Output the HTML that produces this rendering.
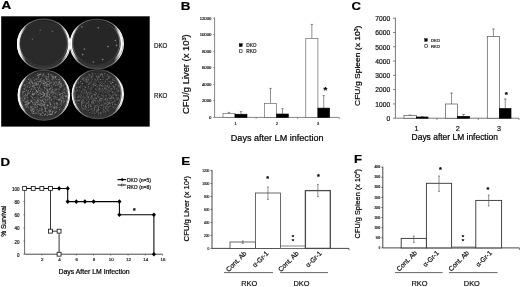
<!DOCTYPE html>
<html><head><meta charset="utf-8"><title>Figure</title>
<style>html,body{margin:0;padding:0;background:#fff;overflow:hidden}svg{display:block;font-family:"Liberation Sans",sans-serif;filter:blur(0.3px);}</style>
</head><body>
<svg width="520" height="287" viewBox="0 0 520 287">
<rect width="520" height="287" fill="#fff"/>
<text x="1.4" y="9" font-size="11.6" text-anchor="start" font-weight="bold" fill="#000" stroke="#000" stroke-width="0.2" textLength="9.72" lengthAdjust="spacingAndGlyphs">A</text>
<rect x="1.2" y="16.3" width="148.5" height="110.3" fill="#000"/>
<defs><linearGradient id="rim" x1="0" x2="1" y1="0" y2="0"><stop offset="0" stop-color="#fff"/><stop offset="0.06" stop-color="#eee"/><stop offset="0.2" stop-color="#7a7a7a"/><stop offset="0.4" stop-color="#505050"/><stop offset="0.6" stop-color="#505050"/><stop offset="0.8" stop-color="#7a7a7a"/><stop offset="0.94" stop-color="#eee"/><stop offset="1" stop-color="#fff"/></linearGradient><linearGradient id="rim2" x1="0" x2="1" y1="0" y2="0"><stop offset="0" stop-color="#999"/><stop offset="0.08" stop-color="#555"/><stop offset="0.3" stop-color="#303030"/><stop offset="0.7" stop-color="#303030"/><stop offset="0.92" stop-color="#555"/><stop offset="1" stop-color="#999"/></linearGradient><linearGradient id="wall" x1="0" x2="0" y1="0" y2="1"><stop offset="0" stop-color="#1a1a1a"/><stop offset="0.7" stop-color="#222"/><stop offset="1" stop-color="#3a3a3a"/></linearGradient><linearGradient id="cL" x1="0" x2="1" y1="0" y2="0"><stop offset="0" stop-color="#fff" stop-opacity="1"/><stop offset="0.05" stop-color="#fff" stop-opacity="0.85"/><stop offset="0.16" stop-color="#fff" stop-opacity="0"/><stop offset="1" stop-color="#fff" stop-opacity="0"/></linearGradient><linearGradient id="cR" x1="0" x2="1" y1="0" y2="0"><stop offset="0" stop-color="#fff" stop-opacity="0"/><stop offset="0.84" stop-color="#fff" stop-opacity="0"/><stop offset="0.95" stop-color="#fff" stop-opacity="0.85"/><stop offset="1" stop-color="#fff" stop-opacity="1"/></linearGradient><filter id="bl" x="-5%" y="-5%" width="110%" height="110%"><feGaussianBlur stdDeviation="0.5"/></filter><filter id="bl2" x="-5%" y="-5%" width="110%" height="110%"><feGaussianBlur stdDeviation="0.3"/></filter></defs>
<g filter="url(#bl)">
<ellipse cx="43.7" cy="44.2" rx="26.2" ry="25.1" fill="url(#wall)" stroke="url(#rim)" stroke-width="1.1"/>
<ellipse cx="43.5" cy="43.3" rx="24.0" ry="22.3" fill="#2a2a2a" stroke="url(#rim2)" stroke-width="0.7"/>
<ellipse cx="43.6" cy="43.8" rx="25.4" ry="23.9" fill="none" stroke="url(#cL)" stroke-width="2.4"/>
<ellipse cx="43.6" cy="43.8" rx="25.4" ry="23.9" fill="none" stroke="url(#cR)" stroke-width="1.5"/>
<circle cx="40.2" cy="30.2" r="0.8" fill="#666"/>
<circle cx="32.4" cy="39.3" r="0.8" fill="#666"/>
<circle cx="52.4" cy="31.5" r="0.8" fill="#666"/>
<ellipse cx="96.8" cy="44.0" rx="26.6" ry="24.8" fill="url(#wall)" stroke="url(#rim)" stroke-width="1.1"/>
<ellipse cx="96.2" cy="43.0" rx="23.6" ry="22.0" fill="#282828" stroke="url(#rim2)" stroke-width="0.7"/>
<ellipse cx="96.5" cy="43.5" rx="25.3" ry="23.6" fill="none" stroke="url(#cL)" stroke-width="1.5"/>
<ellipse cx="96.5" cy="43.5" rx="25.3" ry="23.6" fill="none" stroke="url(#cR)" stroke-width="2.3"/>
<circle cx="82" cy="27" r="0.8" fill="#848484"/>
<circle cx="98.3" cy="27.8" r="0.8" fill="#848484"/>
<circle cx="115.4" cy="40.5" r="0.8" fill="#848484"/>
<circle cx="116.6" cy="45.4" r="0.8" fill="#848484"/>
<circle cx="108" cy="46.6" r="0.8" fill="#848484"/>
<circle cx="84.4" cy="49" r="0.8" fill="#848484"/>
<circle cx="82.7" cy="54.6" r="0.8" fill="#848484"/>
<circle cx="93.4" cy="62" r="0.8" fill="#848484"/>
<circle cx="102.7" cy="59.5" r="0.8" fill="#848484"/>
<ellipse cx="43.8" cy="95.3" rx="25.7" ry="25.0" fill="url(#wall)" stroke="url(#rim)" stroke-width="1.1"/>
<ellipse cx="43.9" cy="94.5" rx="23.9" ry="22.8" fill="#2e2e2e" stroke="url(#rim2)" stroke-width="0.7"/>
<ellipse cx="43.8" cy="94.9" rx="25.0" ry="24.1" fill="none" stroke="url(#cL)" stroke-width="1.8"/>
<ellipse cx="43.8" cy="94.9" rx="25.0" ry="24.1" fill="none" stroke="url(#cR)" stroke-width="1.0"/>
<path d="M40.0 102.0h0M27.1 99.8h0M50.8 105.3h0M30.4 93.1h0M37.6 114.9h0M56.6 85.4h0M44.0 74.7h0M50.3 101.8h0M23.0 101.6h0M55.0 92.6h0M58.9 93.1h0M55.6 93.6h0M55.8 97.4h0M28.0 83.0h0M56.8 97.4h0M35.7 97.9h0M49.2 81.8h0M59.3 83.2h0M46.5 111.8h0M34.7 94.9h0M55.6 111.9h0M27.6 97.2h0M35.3 90.9h0M62.7 91.9h0M44.1 104.3h0M42.7 115.6h0M47.7 107.5h0M56.2 93.1h0M41.7 108.0h0M62.8 85.8h0M33.5 104.4h0M32.1 81.4h0M55.7 98.1h0M39.1 81.5h0M62.7 95.0h0M40.7 94.1h0M46.8 103.3h0M54.2 101.7h0M65.4 100.7h0M36.9 77.0h0M53.4 80.6h0M30.9 88.2h0M54.8 110.2h0M35.9 110.4h0M50.7 111.7h0M58.3 94.5h0M38.5 82.8h0M56.2 82.8h0M39.7 110.2h0M22.9 102.0h0M37.3 81.4h0M35.2 76.7h0M22.7 94.3h0M52.9 100.7h0M57.6 99.4h0M26.1 106.9h0M54.7 93.8h0M48.7 113.2h0M51.4 95.6h0M48.8 77.1h0M58.9 81.4h0M28.2 92.1h0M53.3 98.3h0M22.3 94.9h0M35.6 108.0h0M43.4 104.2h0M49.5 98.5h0M43.7 77.8h0" stroke="rgb(95,95,95)" stroke-width="0.55" stroke-linecap="round" fill="none"/>
<path d="M46.9 88.5h0M56.5 89.8h0M45.6 109.5h0M35.6 107.3h0M54.2 96.2h0M24.0 96.6h0M60.3 87.4h0M63.2 96.3h0M26.7 102.3h0M60.5 84.4h0M24.5 98.5h0M34.0 104.3h0M54.7 83.5h0M53.6 84.8h0M49.9 85.5h0M35.3 104.0h0M24.4 99.2h0M44.2 103.0h0M52.2 114.3h0M39.3 87.2h0M46.8 107.9h0M55.1 88.8h0M47.0 83.8h0M47.4 81.4h0M60.8 98.0h0M48.4 105.6h0M40.2 74.5h0M57.8 104.2h0M53.6 93.9h0M30.4 100.1h0M49.4 95.6h0M34.2 102.3h0M63.9 89.3h0M54.1 77.6h0M46.6 79.4h0M31.9 88.4h0M28.9 92.7h0M27.4 93.2h0M25.6 104.0h0M47.0 95.6h0M34.7 87.2h0M54.5 103.7h0M49.6 83.3h0M25.6 94.4h0M32.7 83.0h0M58.7 79.7h0M43.2 101.3h0M64.1 101.4h0M44.5 108.0h0M49.4 89.0h0M39.0 81.7h0M50.3 89.1h0M55.6 76.6h0M25.7 99.0h0M35.9 104.3h0M46.8 115.5h0M33.5 109.3h0M56.3 79.4h0M40.4 89.0h0M33.9 108.1h0M61.5 105.2h0M56.0 98.3h0M47.5 92.7h0M37.4 92.1h0M50.7 103.7h0M36.8 91.3h0M61.0 104.0h0M43.2 74.7h0M45.0 111.1h0" stroke="rgb(187,187,187)" stroke-width="0.55" stroke-linecap="round" fill="none"/>
<path d="M52.8 89.1h0M57.9 78.2h0M52.7 94.5h0M40.3 95.6h0M54.3 92.4h0M47.5 90.1h0M41.6 93.5h0M35.5 112.7h0M34.5 103.3h0M57.6 83.0h0M51.4 76.9h0M49.4 95.7h0M45.5 110.3h0M39.6 95.4h0M39.3 90.3h0M38.4 92.9h0M64.1 99.2h0M49.1 74.2h0M25.2 92.1h0M51.8 104.4h0M46.1 111.4h0M47.9 76.6h0M42.6 111.8h0M45.0 103.3h0M62.2 105.0h0M42.8 101.6h0M37.0 110.3h0M41.6 77.7h0M62.0 91.8h0M50.5 93.4h0M37.6 97.8h0M22.7 98.1h0M39.1 75.0h0M40.1 87.1h0M28.5 102.3h0M47.0 105.0h0M55.0 92.0h0M30.0 78.5h0M61.6 82.7h0M31.8 106.6h0M55.5 82.4h0M44.4 87.3h0M56.6 81.7h0M50.3 99.0h0M44.3 98.8h0M31.0 105.6h0M35.0 104.5h0M34.5 109.5h0M46.2 81.9h0M50.1 109.3h0M38.7 74.7h0M24.8 86.3h0M57.0 109.0h0M62.4 91.2h0M61.0 102.5h0M30.8 79.3h0M40.1 108.5h0M27.0 107.0h0M58.0 92.8h0M59.8 97.8h0M28.0 102.4h0M37.3 87.2h0M56.3 83.1h0" stroke="rgb(95,95,95)" stroke-width="0.7" stroke-linecap="round" fill="none"/>
<path d="M34.2 99.7h0M38.0 78.8h0M60.1 83.2h0M45.7 97.3h0M46.2 78.8h0M47.7 94.3h0M46.9 86.7h0M45.0 82.2h0M33.2 77.8h0M56.8 111.3h0M51.1 82.8h0M59.6 82.5h0M42.4 100.3h0M36.4 90.5h0M51.8 92.2h0M37.8 94.9h0M44.1 93.8h0M45.8 99.6h0M37.2 102.5h0M35.2 89.3h0M32.6 86.6h0M26.1 101.6h0M48.4 96.4h0M48.3 73.9h0M32.6 113.1h0M38.4 83.9h0M46.7 94.1h0M28.8 93.5h0M43.1 96.5h0M55.7 77.1h0M55.8 81.7h0M40.1 80.2h0M27.2 100.8h0M31.7 111.9h0M52.9 111.4h0M51.5 99.8h0M36.8 91.7h0M24.5 89.2h0M31.3 89.6h0M44.3 90.0h0M33.6 111.4h0M51.9 106.8h0M43.7 82.0h0M36.5 83.3h0M52.4 112.3h0M38.8 90.9h0M47.6 90.5h0M48.1 91.9h0M40.5 81.3h0M49.7 94.5h0M51.9 114.4h0M44.4 81.2h0M40.9 104.6h0M38.9 88.2h0M25.0 102.3h0" stroke="rgb(187,187,187)" stroke-width="0.7" stroke-linecap="round" fill="none"/>
<path d="M59.8 100.4h0M51.6 85.4h0M49.5 101.9h0M32.3 106.4h0M39.4 90.7h0M47.8 80.1h0M53.8 76.5h0M49.6 80.1h0M36.8 82.0h0M41.3 101.7h0M38.1 84.4h0M64.1 89.2h0M51.5 75.9h0M41.7 112.1h0M28.8 103.5h0M40.1 115.5h0M37.3 106.6h0M47.4 98.1h0M58.6 84.8h0M55.7 78.3h0M38.0 99.6h0M59.7 92.8h0M22.1 94.2h0M53.3 96.6h0M45.4 96.7h0M48.1 99.9h0M31.0 79.3h0M49.5 86.3h0M39.2 79.3h0M55.2 90.5h0M45.5 106.9h0M27.6 105.9h0M43.8 80.4h0M54.2 82.4h0M60.2 98.3h0M54.1 76.3h0M60.5 83.6h0M40.4 84.3h0M50.7 111.6h0M43.5 91.8h0M49.3 103.7h0M34.3 110.7h0M58.6 83.7h0M42.3 103.6h0M46.4 76.4h0M29.4 82.7h0M52.0 86.5h0M50.6 83.1h0M66.0 97.3h0M27.3 87.0h0M36.9 105.5h0M37.7 87.5h0M48.1 102.3h0M44.5 85.6h0M53.2 82.4h0M66.1 95.7h0M43.1 104.8h0M27.0 95.6h0M54.2 99.4h0M56.5 82.6h0M46.9 84.3h0M51.4 99.2h0M38.1 100.8h0M25.2 84.8h0M42.8 94.3h0M37.7 102.6h0M41.2 115.6h0M32.4 82.9h0M31.0 80.6h0M45.4 114.4h0M23.3 93.0h0M49.3 98.3h0M24.1 100.1h0M35.1 92.6h0M34.5 112.2h0M30.7 106.4h0M57.0 97.6h0M24.3 98.0h0M56.9 91.9h0M40.2 100.3h0M63.7 98.4h0" stroke="rgb(118,118,118)" stroke-width="0.85" stroke-linecap="round" fill="none"/>
<path d="M28.5 79.4h0M36.5 83.8h0M61.3 101.3h0M33.7 113.5h0M47.6 105.3h0M39.8 81.6h0M52.6 78.2h0M37.0 84.6h0M50.6 110.8h0M38.2 112.1h0M45.4 108.4h0M48.9 81.7h0M47.9 85.8h0M48.8 84.6h0M34.7 83.1h0M29.9 102.6h0M50.8 114.6h0M47.1 105.2h0M56.1 106.4h0M54.2 83.8h0M44.9 114.5h0M40.2 74.4h0M51.9 113.8h0M58.8 100.2h0M37.7 100.3h0M47.1 95.2h0M37.9 104.4h0M40.8 114.3h0M56.3 102.8h0M49.8 97.6h0M43.1 83.5h0M41.7 109.1h0M24.0 88.8h0M44.4 104.7h0M44.9 93.5h0M26.4 104.0h0M61.4 85.4h0M60.2 94.3h0M40.9 105.4h0M59.8 86.1h0M41.1 103.4h0M44.2 98.9h0M50.7 104.4h0M41.1 97.3h0M37.0 91.3h0M54.6 106.0h0M32.3 94.5h0M49.3 110.5h0M46.0 82.6h0M32.4 97.8h0M38.3 89.2h0M26.4 90.2h0M31.7 107.7h0M33.1 111.8h0M50.6 114.3h0M38.9 75.7h0M41.2 94.5h0M38.8 104.1h0M45.7 111.1h0" stroke="rgb(187,187,187)" stroke-width="0.85" stroke-linecap="round" fill="none"/>
<path d="M26.0 107.4h0M38.5 92.9h0M57.4 88.8h0M54.0 107.2h0M38.5 111.1h0M25.7 96.8h0M45.7 96.4h0M55.2 107.7h0M44.0 105.9h0M32.0 100.6h0M41.8 88.3h0M30.4 80.0h0M38.4 110.9h0M33.0 104.7h0M42.6 109.1h0M63.5 86.1h0M30.4 82.9h0M25.6 88.9h0M43.0 110.8h0M53.2 107.4h0M22.3 96.4h0M52.3 93.2h0M25.8 91.6h0M51.9 92.1h0M57.4 94.7h0M39.4 105.6h0M55.7 107.8h0M64.5 88.0h0M48.4 76.9h0M43.0 113.1h0M53.1 82.3h0M45.8 102.1h0M52.7 79.5h0M57.6 83.8h0M33.4 94.8h0M53.8 79.5h0M46.0 78.6h0M54.3 90.0h0M64.4 87.8h0M39.3 104.0h0M55.3 111.0h0M60.8 108.6h0M45.5 91.1h0M29.8 80.5h0M38.6 101.7h0M33.4 89.2h0M33.4 86.6h0M32.4 103.8h0M32.8 87.3h0M62.0 93.8h0M51.8 79.3h0M33.1 99.7h0M29.0 81.2h0M45.0 107.7h0M40.0 80.9h0M54.1 93.8h0M32.4 108.8h0M22.0 90.8h0M59.2 86.6h0M47.0 106.5h0M51.6 91.6h0M36.4 105.8h0M49.1 110.1h0M49.9 100.1h0M59.9 107.1h0M52.6 76.7h0M23.9 94.8h0" stroke="rgb(95,95,95)" stroke-width="0.85" stroke-linecap="round" fill="none"/>
<path d="M53.2 102.6h0M44.0 103.7h0M31.3 96.0h0M32.3 81.7h0M52.0 77.6h0M25.9 106.7h0M43.9 86.4h0M28.4 82.5h0M50.8 88.7h0M40.5 91.4h0M55.3 92.4h0M66.3 93.1h0M28.0 96.9h0M40.1 111.1h0M51.9 79.8h0M58.0 94.0h0M36.6 100.0h0M25.9 94.1h0M39.6 93.1h0M59.2 90.0h0M52.5 105.3h0M49.4 92.7h0M29.7 93.5h0M43.1 84.9h0M48.3 94.5h0M50.2 112.0h0M61.4 86.3h0M38.6 101.6h0M39.3 94.2h0M41.6 75.1h0M47.2 95.8h0M29.9 83.1h0M43.1 79.9h0M29.9 77.9h0M33.3 83.4h0M50.3 110.8h0M30.5 84.1h0M46.1 81.9h0M28.1 93.5h0M44.5 87.6h0M36.9 108.4h0M66.0 89.9h0M56.0 85.2h0M42.4 108.3h0M32.0 94.8h0M39.8 99.9h0M56.4 83.9h0M49.6 111.4h0M31.1 99.7h0M34.1 94.2h0M41.0 81.9h0M27.3 100.8h0M46.9 84.2h0M24.1 98.5h0M44.3 111.4h0M38.8 98.6h0M37.4 85.6h0M60.4 103.2h0M46.7 92.1h0M25.5 105.6h0M45.1 95.2h0M48.0 94.0h0M33.2 86.0h0M59.5 84.5h0M26.8 85.0h0M48.0 99.8h0M35.5 100.1h0M41.5 78.8h0M26.9 86.8h0" stroke="rgb(118,118,118)" stroke-width="0.55" stroke-linecap="round" fill="none"/>
<path d="M28.1 86.0h0M34.7 93.8h0M39.4 74.5h0M33.3 94.9h0M51.1 106.4h0M55.4 85.3h0M31.6 101.3h0M35.4 84.2h0M63.3 99.2h0M52.6 113.2h0M42.1 96.9h0M35.3 74.7h0M42.0 98.1h0M42.3 94.5h0M52.0 96.0h0M47.5 89.5h0M34.4 105.4h0M39.9 92.7h0M53.2 91.2h0M46.0 108.5h0M47.4 113.1h0M31.5 80.6h0M50.0 81.9h0M46.8 81.0h0M45.9 92.7h0M48.3 89.5h0M28.8 100.6h0M34.9 93.3h0M27.6 102.0h0M57.6 85.2h0M29.4 83.1h0M37.4 96.1h0M55.0 97.1h0M50.9 81.1h0M41.1 114.2h0M31.9 96.1h0M58.6 91.9h0M48.2 91.3h0M59.3 99.6h0M65.0 89.2h0M32.1 84.8h0M30.7 89.9h0M34.8 97.7h0M38.3 82.1h0M63.8 96.0h0M62.0 98.3h0M34.5 80.9h0M32.3 85.5h0M54.0 78.0h0M42.1 90.7h0M39.9 99.9h0M56.3 89.5h0M35.2 88.9h0M23.4 95.9h0M33.3 106.6h0M38.3 84.6h0M57.3 81.4h0M27.8 100.0h0M41.4 78.6h0M53.0 95.8h0M42.2 92.4h0M26.2 96.0h0M59.1 87.1h0M27.4 103.8h0M34.2 80.5h0M25.7 97.2h0M51.4 90.1h0M46.4 96.4h0M29.7 82.9h0M27.6 92.1h0M55.8 93.7h0M29.6 103.3h0M40.9 113.6h0M48.9 80.0h0M31.0 96.0h0M54.6 112.9h0M43.9 86.0h0M34.6 93.9h0M42.8 112.5h0M63.7 90.7h0M26.7 83.4h0" stroke="rgb(141,141,141)" stroke-width="0.55" stroke-linecap="round" fill="none"/>
<path d="M49.0 111.7h0M27.4 86.1h0M38.7 100.2h0M50.9 74.2h0M37.8 73.7h0M35.1 103.9h0M66.5 96.1h0M24.6 91.5h0M44.3 84.1h0M59.8 94.8h0M47.9 114.8h0M25.0 95.3h0M31.5 96.9h0M25.6 87.4h0M22.0 97.8h0M52.0 87.5h0M59.3 109.5h0M28.7 102.5h0M61.6 97.0h0M54.4 108.2h0M52.5 89.7h0M46.0 77.8h0M36.1 78.8h0M66.2 90.7h0M32.9 108.3h0M44.3 106.4h0M49.6 84.1h0M35.0 113.8h0M52.7 92.0h0M44.4 115.3h0M60.0 99.6h0M43.5 102.1h0M43.4 101.6h0M59.4 79.3h0M42.5 75.9h0M60.0 107.3h0M48.7 75.1h0M55.3 96.3h0M53.8 98.8h0M60.1 79.9h0M65.0 95.3h0M36.8 101.9h0M39.0 113.5h0M42.6 100.9h0M56.2 104.1h0M36.8 102.7h0M56.2 76.7h0M42.0 82.2h0M49.9 102.5h0M51.4 109.4h0M40.9 84.8h0M32.6 109.2h0M48.9 114.6h0M64.0 92.2h0M28.3 103.4h0M24.3 104.9h0M53.1 77.3h0M48.1 74.1h0M55.5 77.6h0M65.9 95.9h0" stroke="rgb(164,164,164)" stroke-width="0.7" stroke-linecap="round" fill="none"/>
<path d="M22.6 99.0h0M24.9 85.5h0M50.2 97.3h0M33.4 86.7h0M46.7 89.9h0M51.1 93.3h0M52.8 76.4h0M61.5 102.5h0M24.8 95.7h0M41.2 102.2h0M38.9 74.5h0M54.3 90.2h0M34.0 93.9h0M50.9 106.8h0M43.2 113.1h0M42.4 112.8h0M46.4 77.8h0M39.3 110.2h0M35.7 83.3h0M37.4 109.6h0M42.6 109.9h0M47.8 79.3h0M48.7 77.7h0M37.9 104.0h0M48.4 92.5h0M25.5 101.9h0M64.0 92.5h0M44.4 95.5h0M66.0 96.0h0M27.2 97.7h0M59.2 104.3h0M43.7 95.4h0M45.5 100.9h0M53.7 108.4h0M33.3 90.0h0M44.3 87.5h0M33.3 84.0h0M50.2 91.4h0M26.4 107.3h0M51.5 100.4h0M49.8 100.0h0M43.4 93.2h0M37.7 101.8h0M32.0 82.5h0M50.0 106.2h0M53.1 102.2h0M45.4 99.6h0M33.5 85.6h0M44.9 102.4h0M34.2 88.8h0M31.8 81.7h0M36.5 90.2h0M44.6 88.0h0M51.9 92.2h0M63.2 100.2h0M37.9 81.3h0M37.9 111.2h0M54.9 108.9h0M52.3 111.0h0M31.0 108.0h0M27.8 101.6h0M26.6 95.6h0M38.8 76.8h0M59.2 88.7h0M41.0 103.0h0M45.3 85.5h0M36.5 82.8h0" stroke="rgb(141,141,141)" stroke-width="0.7" stroke-linecap="round" fill="none"/>
<path d="M29.2 87.4h0M42.0 89.3h0M52.8 76.2h0M31.0 106.6h0M22.9 91.6h0M32.9 98.2h0M50.8 103.2h0M42.9 99.3h0M44.5 87.7h0M55.9 94.2h0M39.7 85.7h0M57.1 99.5h0M58.8 99.0h0M52.6 89.9h0M52.2 112.2h0M25.6 104.6h0M30.2 85.1h0M35.1 87.5h0M47.3 83.9h0M63.2 101.3h0M60.8 81.3h0M32.0 110.7h0M37.0 107.7h0M40.2 73.4h0M40.6 79.3h0M31.1 101.4h0M31.1 110.3h0M49.8 88.7h0M43.1 73.7h0M28.7 107.1h0M37.9 75.6h0M45.8 110.9h0M57.8 107.1h0M46.9 100.8h0M55.5 112.5h0M36.4 93.9h0M31.8 82.2h0M26.8 104.7h0M56.9 107.8h0M58.0 84.7h0M40.6 97.4h0M53.8 111.2h0M36.0 79.4h0M36.4 85.0h0M43.9 84.3h0M57.6 103.4h0M50.3 88.1h0M30.3 107.8h0M55.7 89.8h0M63.9 103.8h0M39.9 102.7h0M43.6 93.0h0M49.5 112.8h0M36.1 97.7h0M41.0 81.1h0M26.9 81.4h0M32.9 93.1h0M59.3 109.8h0M49.0 109.7h0M39.5 104.6h0M28.1 103.5h0M47.6 105.4h0M50.2 114.5h0M45.5 88.1h0M38.3 98.1h0" stroke="rgb(141,141,141)" stroke-width="0.85" stroke-linecap="round" fill="none"/>
<path d="M42.9 80.9h0M32.2 101.1h0M50.2 97.9h0M53.3 107.1h0M51.9 88.4h0M32.7 93.5h0M43.4 95.1h0M54.7 107.5h0M45.6 76.2h0M41.4 100.4h0M37.6 75.5h0M47.2 89.9h0M49.6 97.4h0M45.4 82.5h0M47.1 92.2h0M35.2 92.1h0M57.1 103.2h0M62.4 93.2h0M26.2 105.8h0M64.5 101.4h0M35.7 82.3h0M45.7 113.3h0M61.1 87.6h0M54.9 79.0h0M63.3 102.6h0M41.0 91.9h0M50.9 92.9h0M42.8 96.5h0M33.1 110.1h0M38.4 94.7h0M45.5 101.9h0M28.6 90.8h0M53.1 84.7h0M48.2 76.7h0M65.0 89.1h0M23.5 100.6h0M49.8 107.6h0M33.3 111.6h0M65.5 96.5h0M29.3 87.3h0M54.2 107.6h0M53.8 92.0h0M35.0 106.3h0M34.0 99.8h0M31.6 101.6h0M32.5 91.5h0M62.7 97.4h0M47.5 112.0h0M56.4 108.3h0M43.4 92.9h0M64.5 91.9h0M50.1 111.7h0M21.9 98.7h0M46.3 97.3h0M63.9 84.2h0M36.2 79.9h0M53.6 92.6h0M25.1 101.6h0M63.2 86.0h0M43.3 83.5h0M43.8 105.6h0M40.1 114.5h0M36.4 109.8h0M31.1 109.2h0M44.0 79.7h0M49.6 89.3h0M60.4 93.8h0M34.7 107.9h0M39.8 87.0h0M28.7 107.9h0M27.8 104.2h0M43.5 105.7h0M51.7 82.7h0M55.5 85.4h0M37.1 106.3h0M22.8 100.4h0M37.2 92.6h0M41.9 80.4h0M32.5 109.8h0M48.0 78.3h0M66.3 91.2h0M55.6 112.6h0" stroke="rgb(164,164,164)" stroke-width="0.55" stroke-linecap="round" fill="none"/>
<path d="M43.8 95.9h0M32.5 102.6h0M43.9 75.9h0M33.9 79.9h0M47.3 99.9h0M59.2 81.5h0M49.6 114.4h0M42.4 105.2h0M62.6 98.2h0M32.3 83.3h0M40.2 93.4h0M28.6 104.1h0M46.3 84.6h0M35.2 104.7h0M59.1 99.6h0M35.0 84.7h0M61.9 93.7h0M61.0 100.1h0M59.8 94.9h0M46.7 85.6h0M40.7 100.4h0M42.9 104.7h0M35.8 102.2h0M47.8 96.6h0M24.8 84.7h0M23.5 91.8h0M41.2 110.6h0M30.7 81.3h0M29.3 83.4h0M65.0 93.3h0M46.8 93.6h0M27.0 106.1h0M51.2 75.0h0M31.3 101.0h0M41.8 82.9h0M33.1 94.2h0M31.0 110.2h0M27.5 94.7h0M61.0 86.9h0M61.8 100.6h0M58.9 89.3h0M50.2 104.6h0M28.2 90.4h0M61.6 83.6h0M23.9 85.4h0M38.6 77.5h0M34.7 85.6h0M42.4 92.2h0M45.1 104.2h0M33.0 94.2h0M62.7 95.7h0M41.3 106.7h0M44.6 94.4h0M45.0 83.5h0M31.0 86.4h0M36.8 113.5h0M30.4 91.5h0M47.8 90.9h0M65.9 96.5h0" stroke="rgb(164,164,164)" stroke-width="0.85" stroke-linecap="round" fill="none"/>
<path d="M35.9 100.0h0M53.1 81.6h0M54.2 103.7h0M39.9 109.3h0M53.3 78.7h0M39.8 108.6h0M60.3 96.4h0M58.3 82.6h0M40.2 100.0h0M40.8 90.4h0M36.1 112.7h0M48.7 98.5h0M61.4 84.4h0M56.4 88.9h0M56.2 104.1h0M40.7 113.8h0M22.5 92.9h0M57.6 105.5h0M54.6 113.4h0M44.6 108.2h0M63.7 94.0h0M54.7 104.0h0M28.1 83.6h0M47.2 108.1h0M46.9 78.6h0M38.7 75.0h0M36.4 79.4h0M52.5 80.1h0M33.3 103.1h0M48.4 76.6h0M34.2 94.1h0M58.2 79.3h0M27.7 97.8h0M38.5 104.5h0M47.4 115.5h0M48.1 76.7h0M65.0 100.2h0M50.1 83.1h0M48.3 105.3h0M44.3 102.3h0M59.5 81.0h0M22.1 92.9h0M42.5 115.7h0M65.1 98.9h0M57.1 95.6h0M39.9 92.1h0M33.1 95.6h0M49.6 90.7h0M30.3 109.7h0M36.4 102.4h0M43.6 74.6h0M52.5 76.0h0M51.3 90.9h0M61.1 103.0h0M55.0 97.4h0" stroke="rgb(118,118,118)" stroke-width="0.7" stroke-linecap="round" fill="none"/>
<ellipse cx="97.8" cy="94.3" rx="25.6" ry="24.5" fill="url(#wall)" stroke="url(#rim)" stroke-width="1.1"/>
<ellipse cx="97.5" cy="93.3" rx="23.5" ry="22.3" fill="#2b2b2b" stroke="url(#rim2)" stroke-width="0.7"/>
<ellipse cx="97.6" cy="93.8" rx="24.8" ry="23.6" fill="none" stroke="url(#cL)" stroke-width="1.0"/>
<ellipse cx="97.6" cy="93.8" rx="24.8" ry="23.6" fill="none" stroke="url(#cR)" stroke-width="1.4"/>
<path d="M92.0 108.9h0M112.2 88.6h0M108.0 106.1h0M98.4 81.9h0M105.2 75.2h0M88.3 77.1h0M99.9 103.1h0M87.5 74.6h0M113.4 95.5h0M111.2 89.5h0M95.4 102.4h0M117.8 94.4h0M99.4 83.9h0M98.3 91.0h0M88.0 84.1h0M100.0 109.5h0M88.3 80.8h0M88.0 76.6h0M109.9 94.5h0M102.3 98.5h0M93.3 76.4h0M80.1 83.2h0M105.9 104.8h0M105.0 81.5h0M106.7 89.9h0M97.0 88.2h0M77.3 87.5h0M96.9 92.0h0M84.6 97.4h0M98.3 114.2h0M89.2 77.2h0M92.9 93.9h0M76.0 91.6h0M100.4 82.4h0M94.7 108.1h0M93.9 106.3h0M95.5 95.3h0M106.1 91.0h0M98.5 75.0h0M95.2 80.9h0M107.2 98.7h0M98.0 73.6h0M107.7 93.0h0M101.9 95.2h0M84.3 101.8h0M80.5 82.0h0M109.3 91.2h0M87.7 96.4h0M83.4 94.0h0M96.2 109.9h0M105.8 90.0h0M106.9 78.3h0M93.1 92.2h0M81.8 107.2h0M91.9 98.5h0M113.2 85.2h0M78.0 90.3h0M110.0 96.8h0M91.7 80.9h0M78.8 104.0h0M92.8 95.8h0M117.1 87.7h0M86.6 79.5h0M88.9 108.0h0M85.2 99.0h0M110.2 106.2h0M95.0 81.3h0M104.0 91.8h0" stroke="rgb(75,75,75)" stroke-width="0.7" stroke-linecap="round" fill="none"/>
<path d="M82.3 101.4h0M93.2 98.7h0M116.5 84.6h0M112.3 81.9h0M107.9 86.4h0M102.2 104.2h0M81.8 79.3h0M94.5 108.6h0M118.0 89.5h0M92.1 101.0h0M84.4 109.2h0M86.4 91.4h0M96.1 84.9h0M102.3 98.7h0M81.0 97.7h0M80.3 85.6h0M110.9 109.0h0M112.2 97.0h0M75.6 92.0h0M103.6 107.2h0M93.0 101.9h0M97.1 97.8h0M94.4 107.6h0M110.3 103.4h0M96.8 77.4h0M98.3 97.2h0M104.3 104.2h0M97.9 100.6h0M108.6 90.4h0M96.5 76.6h0M112.6 102.8h0M105.8 106.5h0M101.0 91.3h0M82.9 108.6h0M83.7 105.5h0M83.4 100.6h0M110.8 83.8h0M100.4 98.3h0M76.3 89.2h0M101.3 85.7h0M94.3 85.1h0M90.9 105.4h0M81.8 91.8h0M89.6 84.0h0M99.1 89.8h0M86.3 82.0h0M93.6 98.8h0M82.1 83.2h0M115.1 92.6h0M108.0 93.5h0M111.5 96.5h0M101.8 82.6h0M100.9 100.3h0M105.4 98.9h0M78.9 96.7h0M99.6 88.6h0M84.2 89.8h0M100.8 105.4h0M83.4 99.0h0M99.3 103.6h0M97.4 79.1h0M98.1 79.7h0M103.7 105.5h0M89.0 74.9h0M84.9 102.5h0M106.7 105.8h0M87.8 93.5h0M100.5 84.7h0M89.7 82.1h0M103.3 112.8h0M95.6 94.9h0M100.3 98.5h0M116.8 97.7h0M84.2 89.9h0M109.0 94.6h0M92.0 77.1h0M109.0 92.2h0M98.6 77.3h0M92.0 84.5h0M112.0 102.8h0M111.1 100.3h0M92.2 79.3h0M94.4 100.2h0M91.1 80.2h0M98.4 108.5h0M85.6 108.8h0M113.1 101.2h0M98.3 108.5h0M79.4 87.3h0M103.5 99.7h0" stroke="rgb(144,144,144)" stroke-width="0.55" stroke-linecap="round" fill="none"/>
<path d="M92.2 101.7h0M107.3 79.5h0M84.6 92.2h0M91.8 81.7h0M95.1 94.0h0M108.3 77.5h0M98.1 89.8h0M91.9 100.1h0M86.0 109.7h0M91.0 93.8h0M113.0 98.5h0M99.1 88.6h0M97.2 101.1h0M109.0 75.2h0M90.4 91.9h0M80.3 100.0h0M75.4 94.1h0M100.5 99.3h0M105.2 103.2h0M92.4 111.0h0M92.8 73.0h0M115.1 101.0h0M98.9 102.3h0M109.2 77.7h0M101.8 83.5h0M86.1 90.6h0M113.3 86.1h0M102.3 74.7h0M91.1 77.3h0M89.8 92.4h0M105.8 92.4h0M91.2 106.4h0M85.9 81.7h0M111.4 97.5h0M99.6 99.3h0M113.6 98.7h0M84.7 97.1h0M86.7 81.9h0M81.8 92.3h0M107.5 79.9h0M88.5 105.3h0M96.5 93.7h0M86.3 94.0h0M89.5 94.7h0M79.3 100.1h0M96.6 111.1h0M93.5 84.7h0M98.7 76.7h0M100.5 84.9h0M100.9 75.0h0M101.4 99.1h0M98.4 112.1h0M82.9 77.3h0M105.9 96.1h0M81.8 103.6h0M84.1 89.6h0M96.9 93.4h0M94.8 95.2h0M99.2 75.9h0M96.4 105.7h0M99.3 100.3h0M84.3 86.6h0M91.8 108.6h0M103.6 108.0h0M114.4 87.1h0M99.6 91.2h0M95.1 113.4h0M90.5 104.9h0M98.5 114.3h0M105.5 98.9h0" stroke="rgb(121,121,121)" stroke-width="0.7" stroke-linecap="round" fill="none"/>
<path d="M107.4 99.1h0M100.9 113.0h0M99.4 88.5h0M85.0 80.2h0M113.0 82.5h0M86.8 80.8h0M88.6 106.8h0M113.5 97.6h0M91.3 78.0h0M102.7 95.6h0M112.4 79.7h0M84.9 77.3h0M109.9 102.0h0M113.7 107.7h0M102.5 85.1h0M88.6 86.6h0M91.8 96.1h0M114.7 88.7h0M116.1 104.4h0M96.2 80.6h0M92.0 96.1h0M85.6 87.4h0M87.9 79.2h0M115.1 86.7h0M91.9 109.1h0M119.0 90.6h0M117.1 99.7h0M83.2 78.5h0M87.9 93.0h0M99.5 77.1h0M86.5 100.5h0M82.8 78.5h0M105.7 103.4h0M90.6 106.4h0M93.5 102.5h0M91.7 96.0h0M90.5 89.2h0M109.9 81.7h0M110.3 98.2h0M113.9 80.3h0M112.2 82.5h0M106.2 79.3h0M103.6 90.1h0M101.7 85.8h0M95.4 100.3h0M92.5 73.8h0M110.0 77.2h0M86.9 95.9h0M104.0 85.9h0M94.6 110.0h0M107.5 86.1h0M79.3 100.5h0M108.7 103.0h0M109.9 91.0h0M92.0 113.5h0M97.1 86.7h0M118.4 90.9h0M89.5 74.3h0M114.8 80.7h0M105.9 85.8h0M115.5 104.8h0M106.0 103.9h0M95.2 107.0h0M118.7 86.7h0M91.2 89.1h0M103.0 76.9h0M108.7 107.1h0M108.4 102.7h0M105.4 111.6h0M111.2 98.7h0M112.9 92.4h0M94.7 100.0h0M113.4 87.2h0M82.1 102.1h0M94.1 83.5h0M110.1 90.0h0M110.1 88.0h0M108.8 104.3h0M91.3 76.2h0M116.3 95.2h0M96.9 111.0h0" stroke="rgb(144,144,144)" stroke-width="0.7" stroke-linecap="round" fill="none"/>
<path d="M86.8 77.2h0M101.6 79.3h0M108.8 110.2h0M108.2 77.2h0M98.2 90.2h0M100.0 73.3h0M101.2 105.4h0M105.8 88.1h0M98.7 73.4h0M98.9 113.1h0M97.5 87.3h0M97.6 104.0h0M114.3 101.8h0M111.9 101.9h0M94.4 106.1h0M111.1 98.4h0M91.1 99.4h0M117.7 99.8h0M105.0 78.5h0M93.9 92.0h0M103.8 94.2h0M87.8 93.8h0M83.0 100.5h0M94.0 78.2h0M103.0 106.0h0M91.4 102.2h0M95.8 96.3h0M94.5 79.7h0M100.8 111.3h0M111.4 88.5h0M109.4 109.4h0M113.3 107.8h0M77.1 86.9h0M106.1 101.6h0M77.1 94.3h0M84.9 86.1h0M115.1 103.4h0M106.7 100.6h0M111.4 90.5h0M85.5 106.3h0M102.2 100.2h0M118.8 92.4h0M87.4 95.6h0M99.5 88.0h0M90.5 108.8h0M94.5 98.0h0M94.3 104.1h0M95.8 97.6h0M77.0 92.8h0M115.7 81.1h0M79.3 100.1h0M84.3 107.6h0M113.1 95.8h0M81.0 87.9h0M94.7 110.1h0M115.5 93.0h0M81.5 101.7h0M93.9 85.1h0M101.4 114.0h0M78.8 82.6h0M89.0 92.9h0M96.4 90.5h0M104.0 87.5h0M112.8 102.7h0M104.0 111.2h0M102.7 82.8h0M85.4 75.8h0M110.6 82.4h0M116.3 84.3h0M106.2 83.4h0M95.8 105.6h0M84.6 86.9h0M93.9 100.6h0" stroke="rgb(75,75,75)" stroke-width="0.55" stroke-linecap="round" fill="none"/>
<path d="M95.6 89.4h0M76.6 91.3h0M108.2 88.3h0M100.4 107.4h0M100.9 87.1h0M88.0 89.2h0M100.9 74.7h0M90.8 89.2h0M96.6 89.7h0M111.1 95.6h0M106.1 106.4h0M94.2 103.8h0M85.0 106.9h0M95.9 107.3h0M91.8 91.4h0M78.5 96.7h0M80.0 86.5h0M79.2 96.0h0M116.6 88.5h0M118.1 88.5h0M104.8 100.5h0M97.6 109.6h0M103.5 95.4h0M98.3 102.1h0M115.8 101.0h0M93.3 99.6h0M87.1 112.0h0M80.7 97.1h0M86.0 97.9h0M83.9 89.2h0M80.8 81.5h0M88.5 83.4h0M96.9 101.9h0M114.4 88.0h0M107.6 75.7h0M88.1 102.5h0M88.6 99.0h0M96.6 107.5h0M100.8 98.0h0M101.9 74.4h0M89.2 105.6h0M115.7 95.5h0M104.3 85.1h0M106.3 109.0h0M105.8 108.4h0M80.0 95.0h0M78.4 100.1h0M117.6 84.9h0M88.8 92.0h0M85.3 104.6h0M83.5 105.4h0M86.5 102.7h0M102.4 79.1h0M96.6 75.4h0M108.1 108.1h0M115.3 84.0h0M93.0 110.1h0M93.2 100.6h0M79.1 89.8h0M90.8 83.4h0M103.2 81.6h0M101.7 73.7h0M102.6 111.4h0M112.7 91.7h0M87.9 93.8h0M91.3 103.8h0M88.7 79.4h0M113.5 97.5h0M105.1 92.3h0M106.6 87.7h0M110.8 76.6h0M113.5 91.2h0M117.6 91.0h0M85.3 89.6h0" stroke="rgb(98,98,98)" stroke-width="0.7" stroke-linecap="round" fill="none"/>
<path d="M94.5 113.8h0M96.8 84.6h0M81.8 105.2h0M109.9 90.4h0M107.6 105.4h0M89.2 101.9h0M80.5 93.9h0M100.0 113.1h0M100.0 74.8h0M100.1 83.0h0M98.7 113.3h0M114.8 98.7h0M81.6 91.3h0M93.3 102.0h0M93.2 86.5h0M100.7 113.8h0M93.4 85.7h0M98.7 81.7h0M112.3 102.4h0M97.9 96.5h0M101.0 104.6h0M101.7 94.3h0M104.8 87.9h0M77.4 90.5h0M109.6 106.6h0M107.5 109.5h0M105.9 98.0h0M81.9 84.0h0M90.5 104.7h0M87.0 80.9h0M82.7 86.3h0M117.0 98.9h0M104.1 85.5h0M101.3 113.1h0M107.2 74.7h0M85.9 93.8h0M79.0 87.1h0M85.0 103.7h0M106.3 89.0h0M91.6 102.7h0M99.0 87.7h0M99.0 101.4h0M82.0 91.6h0M94.9 96.2h0M101.1 101.0h0M115.7 84.1h0M83.6 103.1h0M83.9 106.6h0M78.1 96.6h0M103.1 96.8h0M98.7 76.7h0M82.7 109.0h0M87.7 110.5h0M78.4 103.6h0M84.3 90.8h0M115.5 84.8h0M86.1 79.9h0M112.5 102.6h0M78.5 97.7h0M107.8 104.5h0M105.1 88.7h0M77.9 100.7h0M104.1 87.9h0M101.7 90.5h0M77.5 90.7h0M93.7 94.5h0M108.0 108.9h0M92.0 102.1h0M118.6 95.0h0M104.4 99.4h0M107.8 83.7h0M98.1 96.0h0M81.1 98.4h0M94.0 107.4h0M89.2 100.0h0M99.2 105.6h0M106.1 89.8h0M109.4 85.4h0M103.2 104.3h0M118.7 99.3h0M106.5 107.7h0M107.6 107.5h0" stroke="rgb(121,121,121)" stroke-width="0.55" stroke-linecap="round" fill="none"/>
<path d="M75.6 93.3h0M95.8 94.6h0M101.0 81.3h0M86.7 85.7h0M102.4 74.5h0M77.4 96.2h0M91.2 75.3h0M96.1 76.3h0M95.9 94.4h0M88.4 107.7h0M90.1 92.3h0M84.6 101.6h0M92.5 95.6h0M115.1 92.4h0M89.0 109.9h0M97.1 109.3h0M102.3 90.1h0M107.0 98.7h0M107.1 111.2h0M119.0 95.0h0M85.6 79.7h0M104.7 89.7h0M104.9 73.4h0M95.2 94.1h0M119.0 87.6h0M88.9 95.2h0M88.1 92.4h0M87.4 109.2h0M106.6 97.7h0M94.0 93.7h0M92.2 112.1h0M111.5 83.9h0M77.5 84.0h0M109.3 87.0h0M111.0 98.2h0M98.5 112.5h0M100.2 79.4h0M85.1 107.5h0M89.9 78.2h0M112.8 103.6h0M89.6 103.8h0M80.9 93.9h0M87.0 96.3h0M96.2 99.9h0M100.9 89.8h0M115.1 94.7h0M93.0 75.7h0M109.2 96.4h0M111.9 97.0h0M117.1 85.7h0M96.5 112.4h0M96.6 75.9h0M102.2 77.1h0M111.3 89.4h0M92.8 76.1h0M103.4 77.8h0M87.2 84.8h0M75.7 96.2h0M84.7 98.7h0M88.5 79.7h0M80.4 87.7h0M105.9 88.6h0M104.0 106.9h0M98.6 81.1h0M111.7 90.6h0M85.4 97.2h0M117.7 93.1h0M88.5 77.0h0M94.8 109.7h0M78.7 83.9h0" stroke="rgb(98,98,98)" stroke-width="0.55" stroke-linecap="round" fill="none"/>
<path d="M111.6 88.5h0M107.5 102.1h0M105.4 107.7h0M87.4 81.9h0M78.6 82.4h0M88.0 97.3h0M112.5 82.5h0M88.5 84.3h0M82.1 108.0h0M103.3 110.9h0M88.7 104.2h0M93.8 84.3h0M105.5 99.3h0M104.8 88.6h0M100.2 89.0h0M81.4 106.3h0M104.0 83.4h0M83.2 100.7h0M98.2 110.5h0M102.4 75.8h0M105.2 81.6h0M105.6 81.2h0M103.3 101.7h0M92.6 103.8h0M109.9 95.6h0M87.1 103.5h0M80.2 96.8h0M102.4 92.2h0M105.0 92.0h0M91.5 102.2h0M93.4 101.2h0M95.4 92.3h0M104.5 73.7h0M112.9 82.6h0M98.9 94.2h0M100.4 112.9h0M108.6 78.6h0M83.6 108.5h0M87.9 102.9h0M99.8 96.8h0M105.2 99.2h0M101.2 100.8h0M94.3 94.5h0M114.9 105.0h0M101.1 101.9h0M99.4 100.5h0M100.4 75.1h0M91.7 87.0h0M113.2 78.3h0M112.1 91.8h0M104.4 110.7h0M82.9 99.5h0M112.3 92.4h0M107.2 89.6h0M78.5 101.0h0M104.2 103.1h0M77.3 100.2h0M114.6 100.2h0M94.1 109.2h0M109.4 103.3h0M93.5 103.1h0M105.7 108.5h0M91.0 98.3h0M117.2 91.4h0M88.4 97.1h0M95.5 89.1h0M107.8 100.6h0M88.1 88.0h0M117.6 98.9h0M85.3 87.2h0M95.2 74.0h0M110.7 98.9h0M88.3 110.5h0M92.4 75.0h0M108.8 97.9h0M94.0 82.2h0M82.8 79.6h0M87.2 99.1h0M101.6 98.6h0M81.9 101.3h0M91.2 93.7h0M109.8 86.5h0M98.5 107.6h0M112.4 104.5h0M99.2 85.1h0M106.2 95.7h0M81.6 104.5h0M107.1 102.7h0" stroke="rgb(121,121,121)" stroke-width="0.85" stroke-linecap="round" fill="none"/>
<path d="M85.7 106.4h0M113.2 85.8h0M95.3 105.9h0M102.4 88.7h0M95.5 85.5h0M110.2 106.4h0M96.6 98.4h0M103.8 97.1h0M93.9 112.1h0M86.5 79.1h0M108.8 110.9h0M81.8 102.8h0M99.2 85.8h0M110.0 98.5h0M109.6 103.2h0M111.2 83.4h0M91.0 106.6h0M98.4 106.4h0M85.4 105.4h0M86.3 107.4h0M88.5 97.0h0M81.7 102.2h0M90.7 82.9h0M118.4 85.9h0M103.8 109.6h0M107.2 110.2h0M102.1 74.1h0M86.4 92.1h0M113.0 107.0h0M83.5 80.1h0M107.1 85.5h0M89.7 112.6h0M80.5 81.5h0M79.0 100.3h0M81.2 95.7h0M95.1 98.6h0M88.6 79.9h0M98.5 109.6h0M116.2 95.7h0M112.9 94.9h0M108.8 76.9h0M88.4 101.5h0M91.6 97.1h0M76.7 87.8h0M105.1 87.9h0M108.5 87.6h0M107.1 99.8h0M97.8 110.6h0M97.7 78.8h0M101.4 105.7h0M97.4 105.2h0M100.3 79.5h0M82.5 83.6h0M116.0 94.4h0M87.6 77.3h0M118.4 97.7h0M95.1 79.3h0M89.7 75.9h0" stroke="rgb(144,144,144)" stroke-width="0.85" stroke-linecap="round" fill="none"/>
<path d="M83.0 109.1h0M83.8 89.3h0M88.5 74.8h0M78.5 86.9h0M100.9 94.9h0M81.2 87.0h0M90.7 96.3h0M79.2 91.2h0M103.6 93.6h0M112.1 86.9h0M100.3 104.3h0M92.0 99.4h0M98.4 95.3h0M99.3 98.5h0M86.5 100.1h0M107.0 91.1h0M108.4 90.4h0M104.5 106.4h0M89.9 109.8h0M116.1 99.2h0M89.0 92.3h0M105.0 112.8h0M92.9 113.4h0M111.1 77.1h0M109.3 81.9h0M101.7 108.4h0M115.4 95.2h0M116.2 90.6h0M91.0 87.6h0M113.3 106.6h0M80.2 105.8h0M112.3 80.5h0M103.6 83.3h0M82.5 96.5h0M91.3 108.2h0M82.2 93.6h0M108.4 92.5h0M114.5 102.0h0M93.1 104.6h0M90.1 77.0h0M112.4 106.1h0M81.8 100.3h0M89.9 99.0h0M109.9 96.0h0M93.3 87.6h0M89.6 86.4h0M99.5 82.0h0M77.6 100.2h0M93.3 98.9h0M105.1 75.8h0M80.9 91.4h0M84.1 88.2h0M86.7 87.2h0M82.3 90.5h0M93.9 91.6h0M92.4 100.3h0M83.8 93.9h0M96.2 81.7h0M112.5 97.3h0M95.9 103.5h0M99.7 93.1h0M102.5 108.2h0M89.0 88.8h0M113.8 102.1h0M104.6 85.4h0M97.6 95.9h0M84.1 101.4h0M106.4 76.5h0M96.9 77.4h0M117.1 98.3h0M105.8 101.6h0" stroke="rgb(75,75,75)" stroke-width="0.85" stroke-linecap="round" fill="none"/>
<path d="M106.9 100.9h0M114.4 93.6h0M95.8 97.5h0M86.4 106.9h0M82.6 103.5h0M82.0 105.1h0M83.6 96.1h0M110.4 105.2h0M118.8 91.2h0M96.2 111.2h0M114.9 89.5h0M117.5 98.4h0M116.4 82.0h0M111.0 83.7h0M116.5 89.0h0M111.7 102.4h0M82.8 97.6h0M89.6 99.2h0M75.6 97.4h0M82.4 102.3h0M86.0 97.8h0M101.6 73.9h0M82.3 89.0h0M83.6 108.9h0M113.1 95.5h0M93.5 101.2h0M87.7 95.0h0M92.3 97.6h0M105.5 113.0h0M96.4 112.0h0M85.5 78.7h0M114.1 94.3h0M89.8 93.0h0M112.2 106.9h0M112.9 97.8h0M107.3 104.7h0M86.2 104.1h0M78.4 95.3h0M95.3 101.4h0M114.0 107.3h0M110.4 97.7h0M90.1 98.2h0M113.4 97.4h0M103.4 79.4h0M84.9 92.6h0M90.8 109.6h0M91.9 88.1h0M112.8 89.0h0M107.5 91.5h0M99.7 85.7h0M102.5 86.5h0M95.9 83.3h0M101.4 73.4h0M77.4 97.5h0M88.9 107.6h0M93.0 85.7h0M110.7 82.0h0M83.4 93.8h0M76.6 100.2h0M114.4 101.7h0M99.3 99.5h0M95.1 81.9h0M88.3 105.3h0M108.9 78.1h0M105.4 95.3h0M107.2 105.3h0M114.3 104.6h0M97.5 76.4h0M75.9 90.7h0M78.7 100.4h0M108.2 81.6h0M77.7 100.9h0M100.3 100.5h0M109.4 100.0h0M77.6 101.3h0" stroke="rgb(98,98,98)" stroke-width="0.85" stroke-linecap="round" fill="none"/>
</g>
<text x="154" y="47.9" font-size="6.5" text-anchor="start" font-weight="normal" fill="#1a1a1a" stroke="#1a1a1a" stroke-width="0.2" textLength="13.3" lengthAdjust="spacingAndGlyphs">DKO</text>
<text x="154" y="97.9" font-size="6.5" text-anchor="start" font-weight="normal" fill="#1a1a1a" stroke="#1a1a1a" stroke-width="0.2" textLength="13.3" lengthAdjust="spacingAndGlyphs">RKO</text>
<text x="180.7" y="10.2" font-size="11.6" text-anchor="start" font-weight="bold" fill="#000" stroke="#000" stroke-width="0.2" textLength="9.72" lengthAdjust="spacingAndGlyphs">B</text>
<line x1="214.6" y1="17.6" x2="214.6" y2="117.4" stroke="#555" stroke-width="0.7"/>
<line x1="214.6" y1="117.4" x2="338.9" y2="117.4" stroke="#555" stroke-width="0.7"/>
<line x1="213.29999999999998" y1="117.4" x2="214.6" y2="117.4" stroke="#555" stroke-width="0.7"/>
<text x="211.29999999999998" y="118.9" font-size="4.2" text-anchor="end" font-weight="normal" fill="#222" stroke="#222" stroke-width="0.2" >0</text>
<line x1="213.29999999999998" y1="100.85000000000001" x2="214.6" y2="100.85000000000001" stroke="#555" stroke-width="0.7"/>
<text x="211.29999999999998" y="102.35000000000001" font-size="4.2" text-anchor="end" font-weight="normal" fill="#222" stroke="#222" stroke-width="0.2" >2000</text>
<line x1="213.29999999999998" y1="84.30000000000001" x2="214.6" y2="84.30000000000001" stroke="#555" stroke-width="0.7"/>
<text x="211.29999999999998" y="85.80000000000001" font-size="4.2" text-anchor="end" font-weight="normal" fill="#222" stroke="#222" stroke-width="0.2" >4000</text>
<line x1="213.29999999999998" y1="67.75" x2="214.6" y2="67.75" stroke="#555" stroke-width="0.7"/>
<text x="211.29999999999998" y="69.25" font-size="4.2" text-anchor="end" font-weight="normal" fill="#222" stroke="#222" stroke-width="0.2" >6000</text>
<line x1="213.29999999999998" y1="51.2" x2="214.6" y2="51.2" stroke="#555" stroke-width="0.7"/>
<text x="211.29999999999998" y="52.7" font-size="4.2" text-anchor="end" font-weight="normal" fill="#222" stroke="#222" stroke-width="0.2" >8000</text>
<line x1="213.29999999999998" y1="34.64999999999999" x2="214.6" y2="34.64999999999999" stroke="#555" stroke-width="0.7"/>
<text x="211.29999999999998" y="36.14999999999999" font-size="4.2" text-anchor="end" font-weight="normal" fill="#222" stroke="#222" stroke-width="0.2" >10000</text>
<line x1="213.29999999999998" y1="18.099999999999994" x2="214.6" y2="18.099999999999994" stroke="#555" stroke-width="0.7"/>
<text x="211.29999999999998" y="19.599999999999994" font-size="4.2" text-anchor="end" font-weight="normal" fill="#222" stroke="#222" stroke-width="0.2" >12000</text>
<line x1="256.15" y1="117.4" x2="256.15" y2="118.9" stroke="#555" stroke-width="0.7"/>
<line x1="297.7" y1="117.4" x2="297.7" y2="118.9" stroke="#555" stroke-width="0.7"/>
<line x1="339.25" y1="117.4" x2="339.25" y2="118.9" stroke="#555" stroke-width="0.7"/>
<line x1="229.0" y1="112.4" x2="229.0" y2="113.6" stroke="#444" stroke-width="0.6"/>
<line x1="227.8" y1="112.4" x2="230.2" y2="112.4" stroke="#444" stroke-width="0.6"/>
<rect x="223.00" y="113.60" width="12.00" height="3.80" fill="#fff" stroke="#555" stroke-width="0.6"/>
<line x1="241.0" y1="111.6" x2="241.0" y2="114.2" stroke="#444" stroke-width="0.6"/>
<line x1="239.8" y1="111.6" x2="242.2" y2="111.6" stroke="#444" stroke-width="0.6"/>
<rect x="235.00" y="114.20" width="12.00" height="3.20" fill="#000" stroke="#000" stroke-width="0.6"/>
<text x="235.6" y="125" font-size="4.1" text-anchor="middle" font-weight="normal" fill="#222" stroke="#222" stroke-width="0.2" >1</text>
<line x1="270.5" y1="88.4" x2="270.5" y2="103.4" stroke="#444" stroke-width="0.6"/>
<line x1="269.3" y1="88.4" x2="271.7" y2="88.4" stroke="#444" stroke-width="0.6"/>
<rect x="264.40" y="103.40" width="12.20" height="14.00" fill="#fff" stroke="#555" stroke-width="0.6"/>
<line x1="282.5" y1="108.6" x2="282.5" y2="114" stroke="#444" stroke-width="0.6"/>
<line x1="281.3" y1="108.6" x2="283.7" y2="108.6" stroke="#444" stroke-width="0.6"/>
<rect x="276.60" y="114.00" width="11.80" height="3.40" fill="#000" stroke="#000" stroke-width="0.6"/>
<text x="277" y="125" font-size="4.1" text-anchor="middle" font-weight="normal" fill="#222" stroke="#222" stroke-width="0.2" >2</text>
<line x1="311.85" y1="24.4" x2="311.85" y2="38.5" stroke="#444" stroke-width="0.6"/>
<line x1="310.65000000000003" y1="24.4" x2="313.05" y2="24.4" stroke="#444" stroke-width="0.6"/>
<rect x="305.80" y="38.50" width="12.10" height="78.90" fill="#fff" stroke="#555" stroke-width="0.6"/>
<line x1="323.75" y1="95.6" x2="323.75" y2="108.1" stroke="#444" stroke-width="0.6"/>
<line x1="322.55" y1="95.6" x2="324.95" y2="95.6" stroke="#444" stroke-width="0.6"/>
<rect x="317.90" y="108.10" width="11.70" height="9.30" fill="#000" stroke="#000" stroke-width="0.6"/>
<text x="318.1" y="125" font-size="4.1" text-anchor="middle" font-weight="normal" fill="#222" stroke="#222" stroke-width="0.2" >3</text>
<text x="325.4" y="93.0" font-size="9.6" text-anchor="middle" font-weight="bold" fill="#000" stroke="#000" stroke-width="0.2" >*</text>
<rect x="239.20" y="43.60" width="3.00" height="3.00" fill="#000" stroke="#000" stroke-width="0.4"/>
<text x="246.2" y="46.9" font-size="4.8" text-anchor="start" font-weight="normal" fill="#222" stroke="#222" stroke-width="0.2" >DKO</text>
<rect x="239.30" y="49.80" width="2.80" height="2.80" fill="#fff" stroke="#111" stroke-width="0.6"/>
<text x="246.2" y="53.4" font-size="4.8" text-anchor="start" font-weight="normal" fill="#222" stroke="#222" stroke-width="0.2" >RKO</text>
<text transform="translate(188.5,74.2) rotate(-90)" x="-39.8" font-size="8.5" text-anchor="start" fill="#000" stroke="#000" stroke-width="0.2" textLength="79.6" lengthAdjust="spacingAndGlyphs">CFU/g Liver (x 10<tspan dy="-2.9" font-size="5">3</tspan><tspan dy="2.9">)</tspan></text>
<text x="230.8" y="140.8" font-size="9.0" font-weight="normal" fill="#000" stroke="#000" stroke-width="0.2" textLength="92.7" lengthAdjust="spacingAndGlyphs">Days after LM infection</text>
<text x="351.6" y="10" font-size="11.3" text-anchor="start" font-weight="bold" fill="#000" stroke="#000" stroke-width="0.2" textLength="9.46" lengthAdjust="spacingAndGlyphs">C</text>
<line x1="395.4" y1="17.7" x2="395.4" y2="118.2" stroke="#555" stroke-width="0.7999999999999999"/>
<line x1="395.4" y1="118.2" x2="519" y2="118.2" stroke="#555" stroke-width="0.7999999999999999"/>
<line x1="393.0" y1="118.2" x2="395.4" y2="118.2" stroke="#555" stroke-width="0.7"/>
<text x="390.2" y="121.0" font-size="6.7" text-anchor="end" font-weight="normal" fill="#111" stroke="#111" stroke-width="0.2" >0</text>
<line x1="393.0" y1="103.91428571428571" x2="395.4" y2="103.91428571428571" stroke="#555" stroke-width="0.7"/>
<text x="390.2" y="106.71428571428571" font-size="6.7" text-anchor="end" font-weight="normal" fill="#111" stroke="#111" stroke-width="0.2" >1000</text>
<line x1="393.0" y1="89.62857142857143" x2="395.4" y2="89.62857142857143" stroke="#555" stroke-width="0.7"/>
<text x="390.2" y="92.42857142857143" font-size="6.7" text-anchor="end" font-weight="normal" fill="#111" stroke="#111" stroke-width="0.2" >2000</text>
<line x1="393.0" y1="75.34285714285716" x2="395.4" y2="75.34285714285716" stroke="#555" stroke-width="0.7"/>
<text x="390.2" y="78.14285714285715" font-size="6.7" text-anchor="end" font-weight="normal" fill="#111" stroke="#111" stroke-width="0.2" >3000</text>
<line x1="393.0" y1="61.05714285714286" x2="395.4" y2="61.05714285714286" stroke="#555" stroke-width="0.7"/>
<text x="390.2" y="63.857142857142854" font-size="6.7" text-anchor="end" font-weight="normal" fill="#111" stroke="#111" stroke-width="0.2" >4000</text>
<line x1="393.0" y1="46.77142857142857" x2="395.4" y2="46.77142857142857" stroke="#555" stroke-width="0.7"/>
<text x="390.2" y="49.57142857142857" font-size="6.7" text-anchor="end" font-weight="normal" fill="#111" stroke="#111" stroke-width="0.2" >5000</text>
<line x1="393.0" y1="32.485714285714295" x2="395.4" y2="32.485714285714295" stroke="#555" stroke-width="0.7"/>
<text x="390.2" y="35.28571428571429" font-size="6.7" text-anchor="end" font-weight="normal" fill="#111" stroke="#111" stroke-width="0.2" >6000</text>
<line x1="393.0" y1="18.200000000000003" x2="395.4" y2="18.200000000000003" stroke="#555" stroke-width="0.7"/>
<text x="390.2" y="21.000000000000004" font-size="6.7" text-anchor="end" font-weight="normal" fill="#111" stroke="#111" stroke-width="0.2" >7000</text>
<line x1="437" y1="118.2" x2="437" y2="120.0" stroke="#555" stroke-width="0.7"/>
<line x1="478.3" y1="118.2" x2="478.3" y2="120.0" stroke="#555" stroke-width="0.7"/>
<line x1="519" y1="118.2" x2="519" y2="120.0" stroke="#555" stroke-width="0.7"/>
<line x1="410.2" y1="115.0" x2="410.2" y2="115.6" stroke="#444" stroke-width="0.6"/>
<line x1="408.8" y1="115.0" x2="411.59999999999997" y2="115.0" stroke="#444" stroke-width="0.6"/>
<rect x="404.00" y="115.60" width="12.40" height="2.60" fill="#fff" stroke="#555" stroke-width="0.7"/>
<line x1="422.2" y1="116.6" x2="422.2" y2="117" stroke="#444" stroke-width="0.6"/>
<line x1="420.8" y1="116.6" x2="423.59999999999997" y2="116.6" stroke="#444" stroke-width="0.6"/>
<rect x="416.40" y="117.00" width="11.60" height="1.20" fill="#000" stroke="#000" stroke-width="0.7"/>
<text x="416.4" y="130.6" font-size="7.2" text-anchor="middle" font-weight="normal" fill="#111" stroke="#111" stroke-width="0.2" >1</text>
<line x1="451.5" y1="93" x2="451.5" y2="104" stroke="#444" stroke-width="0.6"/>
<line x1="450.1" y1="93" x2="452.9" y2="93" stroke="#444" stroke-width="0.6"/>
<rect x="445.40" y="104.00" width="12.20" height="14.20" fill="#fff" stroke="#555" stroke-width="0.7"/>
<line x1="463.6" y1="114.4" x2="463.6" y2="116.4" stroke="#444" stroke-width="0.6"/>
<line x1="462.20000000000005" y1="114.4" x2="465.0" y2="114.4" stroke="#444" stroke-width="0.6"/>
<rect x="457.60" y="116.40" width="12.00" height="1.80" fill="#000" stroke="#000" stroke-width="0.7"/>
<text x="457.7" y="130.6" font-size="7.2" text-anchor="middle" font-weight="normal" fill="#111" stroke="#111" stroke-width="0.2" >2</text>
<line x1="493.4" y1="29" x2="493.4" y2="36.5" stroke="#444" stroke-width="0.6"/>
<line x1="492.0" y1="29" x2="494.79999999999995" y2="29" stroke="#444" stroke-width="0.6"/>
<rect x="487.30" y="36.50" width="12.20" height="81.70" fill="#fff" stroke="#555" stroke-width="0.7"/>
<line x1="505.25" y1="99" x2="505.25" y2="108.6" stroke="#444" stroke-width="0.6"/>
<line x1="503.85" y1="99" x2="506.65" y2="99" stroke="#444" stroke-width="0.6"/>
<rect x="499.50" y="108.60" width="11.50" height="9.60" fill="#000" stroke="#000" stroke-width="0.7"/>
<text x="499" y="130.6" font-size="7.2" text-anchor="middle" font-weight="normal" fill="#111" stroke="#111" stroke-width="0.2" >3</text>
<text x="506.4" y="97.1" font-size="8" text-anchor="middle" font-weight="bold" fill="#000" stroke="#000" stroke-width="0.2" >*</text>
<rect x="424.70" y="38.70" width="2.60" height="2.60" fill="#000" stroke="#000" stroke-width="0.4"/>
<text x="431" y="41.5" font-size="4.1" text-anchor="start" font-weight="normal" fill="#222" stroke="#222" stroke-width="0.2" >DKO</text>
<rect x="424.80" y="44.70" width="2.50" height="2.50" fill="#fff" stroke="#111" stroke-width="0.6"/>
<text x="431" y="47.5" font-size="4.1" text-anchor="start" font-weight="normal" fill="#222" stroke="#222" stroke-width="0.2" >RKO</text>
<text transform="translate(360.3,65.8) rotate(-90)" x="-40.2" font-size="8.0" text-anchor="start" fill="#000" stroke="#000" stroke-width="0.2" textLength="80.4" lengthAdjust="spacingAndGlyphs">CFU/g Spleen (x 10<tspan dy="-2.7" font-size="4.7">3</tspan><tspan dy="2.7">)</tspan></text>
<text x="411.6" y="140.3" font-size="8.4" font-weight="normal" fill="#000" stroke="#000" stroke-width="0.2" textLength="86.4" lengthAdjust="spacingAndGlyphs">Days after LM infection</text>
<text x="0.6" y="165.6" font-size="11.4" text-anchor="start" font-weight="bold" fill="#000" stroke="#000" stroke-width="0.2" textLength="9.55" lengthAdjust="spacingAndGlyphs">D</text>
<line x1="24.6" y1="188.4" x2="24.6" y2="254.2" stroke="#444" stroke-width="0.8"/>
<line x1="24.6" y1="254.2" x2="162.51999999999998" y2="254.2" stroke="#333" stroke-width="0.9"/>
<line x1="23.400000000000002" y1="254.2" x2="24.6" y2="254.2" stroke="#444" stroke-width="0.7"/>
<text x="19.6" y="256.8" font-size="4.5" text-anchor="end" font-weight="normal" fill="#222" stroke="#222" stroke-width="0.2" >0</text>
<line x1="23.400000000000002" y1="241.04" x2="24.6" y2="241.04" stroke="#444" stroke-width="0.7"/>
<text x="19.6" y="243.64" font-size="4.5" text-anchor="end" font-weight="normal" fill="#222" stroke="#222" stroke-width="0.2" >20</text>
<line x1="23.400000000000002" y1="227.88" x2="24.6" y2="227.88" stroke="#444" stroke-width="0.7"/>
<text x="19.6" y="230.48" font-size="4.5" text-anchor="end" font-weight="normal" fill="#222" stroke="#222" stroke-width="0.2" >40</text>
<line x1="23.400000000000002" y1="214.72" x2="24.6" y2="214.72" stroke="#444" stroke-width="0.7"/>
<text x="19.6" y="217.32" font-size="4.5" text-anchor="end" font-weight="normal" fill="#222" stroke="#222" stroke-width="0.2" >60</text>
<line x1="23.400000000000002" y1="201.56" x2="24.6" y2="201.56" stroke="#444" stroke-width="0.7"/>
<text x="19.6" y="204.16" font-size="4.5" text-anchor="end" font-weight="normal" fill="#222" stroke="#222" stroke-width="0.2" >80</text>
<line x1="23.400000000000002" y1="188.4" x2="24.6" y2="188.4" stroke="#444" stroke-width="0.7"/>
<text x="19.6" y="191.0" font-size="4.5" text-anchor="end" font-weight="normal" fill="#222" stroke="#222" stroke-width="0.2" >100</text>
<line x1="41.84" y1="254.2" x2="41.84" y2="255.5" stroke="#444" stroke-width="0.7"/>
<text x="42.24" y="261.3" font-size="4.4" text-anchor="middle" font-weight="normal" fill="#222" stroke="#222" stroke-width="0.2" >2</text>
<line x1="59.08" y1="254.2" x2="59.08" y2="255.5" stroke="#444" stroke-width="0.7"/>
<text x="59.48" y="261.3" font-size="4.4" text-anchor="middle" font-weight="normal" fill="#222" stroke="#222" stroke-width="0.2" >4</text>
<line x1="76.32" y1="254.2" x2="76.32" y2="255.5" stroke="#444" stroke-width="0.7"/>
<text x="76.72" y="261.3" font-size="4.4" text-anchor="middle" font-weight="normal" fill="#222" stroke="#222" stroke-width="0.2" >6</text>
<line x1="93.56" y1="254.2" x2="93.56" y2="255.5" stroke="#444" stroke-width="0.7"/>
<text x="93.96000000000001" y="261.3" font-size="4.4" text-anchor="middle" font-weight="normal" fill="#222" stroke="#222" stroke-width="0.2" >8</text>
<line x1="110.79999999999998" y1="254.2" x2="110.79999999999998" y2="255.5" stroke="#444" stroke-width="0.7"/>
<text x="111.19999999999999" y="261.3" font-size="4.4" text-anchor="middle" font-weight="normal" fill="#222" stroke="#222" stroke-width="0.2" >10</text>
<line x1="128.04" y1="254.2" x2="128.04" y2="255.5" stroke="#444" stroke-width="0.7"/>
<text x="128.44" y="261.3" font-size="4.4" text-anchor="middle" font-weight="normal" fill="#222" stroke="#222" stroke-width="0.2" >12</text>
<line x1="145.28" y1="254.2" x2="145.28" y2="255.5" stroke="#444" stroke-width="0.7"/>
<text x="145.68" y="261.3" font-size="4.4" text-anchor="middle" font-weight="normal" fill="#222" stroke="#222" stroke-width="0.2" >14</text>
<line x1="162.51999999999998" y1="254.2" x2="162.51999999999998" y2="255.5" stroke="#444" stroke-width="0.7"/>
<text x="162.92" y="261.3" font-size="4.4" text-anchor="middle" font-weight="normal" fill="#222" stroke="#222" stroke-width="0.2" >16</text>
<polyline fill="none" stroke="#000" stroke-width="1.05" points="24.6,188.4 67.7,188.4 67.7,201.6 119.4,201.6 119.4,214.7 153.9,214.7 153.9,254.2"/>
<polygon points="57.0,188.4 59.1,186.1 61.2,188.4 59.1,190.7" fill="#000"/>
<polygon points="65.6,188.4 67.7,186.1 69.8,188.4 67.7,190.7" fill="#000"/>
<polygon points="65.6,201.6 67.7,199.3 69.8,201.6 67.7,203.9" fill="#000"/>
<polygon points="74.2,201.6 76.3,199.3 78.4,201.6 76.3,203.9" fill="#000"/>
<polygon points="82.8,201.6 84.9,199.3 87.0,201.6 84.9,203.9" fill="#000"/>
<polygon points="91.5,201.6 93.6,199.3 95.7,201.6 93.6,203.9" fill="#000"/>
<polygon points="117.3,201.6 119.4,199.3 121.5,201.6 119.4,203.9" fill="#000"/>
<polygon points="117.3,214.7 119.4,212.4 121.5,214.7 119.4,217.0" fill="#000"/>
<polygon points="151.8,214.7 153.9,212.4 156.0,214.7 153.9,217.0" fill="#000"/>
<polygon points="151.8,254.2 153.9,251.9 156.0,254.2 153.9,256.5" fill="#000"/>
<polyline fill="none" stroke="#111" stroke-width="0.85" points="24.6,188.4 50.5,188.4 50.5,231.2 59.1,231.2 59.1,254.2"/>
<rect x="22.65" y="186.45" width="3.90" height="3.90" fill="#fff" stroke="#111" stroke-width="0.8"/>
<rect x="31.27" y="186.45" width="3.90" height="3.90" fill="#fff" stroke="#111" stroke-width="0.8"/>
<rect x="39.89" y="186.45" width="3.90" height="3.90" fill="#fff" stroke="#111" stroke-width="0.8"/>
<rect x="48.51" y="186.45" width="3.90" height="3.90" fill="#fff" stroke="#111" stroke-width="0.8"/>
<rect x="48.51" y="229.22" width="3.90" height="3.90" fill="#fff" stroke="#111" stroke-width="0.8"/>
<rect x="57.13" y="229.22" width="3.90" height="3.90" fill="#fff" stroke="#111" stroke-width="0.8"/>
<rect x="57.13" y="252.25" width="3.90" height="3.90" fill="#fff" stroke="#111" stroke-width="0.8"/>
<text x="134.4" y="212.9" font-size="6.6" text-anchor="middle" font-weight="bold" fill="#000" stroke="#000" stroke-width="0.2" >*</text>
<line x1="117.5" y1="179.6" x2="126.2" y2="179.6" stroke="#000" stroke-width="1.2"/>
<polygon points="120.3,179.6 122.2,177.9 124.1,179.6 122.2,181.3" fill="#000"/>
<line x1="117.5" y1="185" x2="126.2" y2="185" stroke="#000" stroke-width="0.9"/>
<rect x="121.30" y="184.10" width="1.80" height="1.80" fill="#fff" stroke="#000" stroke-width="0.5"/>
<text x="126.9" y="181.8" font-size="5" font-weight="normal" fill="#111" stroke="#111" stroke-width="0.2" textLength="24.1" lengthAdjust="spacingAndGlyphs">DKO (n=5)</text>
<text x="126.9" y="188.6" font-size="5" font-weight="normal" fill="#111" stroke="#111" stroke-width="0.2" textLength="24.1" lengthAdjust="spacingAndGlyphs">RKO (n=8)</text>
<text transform="translate(5.5,221.2) rotate(-90)" x="-15.65" font-size="6.7" text-anchor="start" fill="#000" stroke="#000" stroke-width="0.2" textLength="31.3" lengthAdjust="spacingAndGlyphs">% Survival</text>
<text x="58.6" y="274.2" font-size="6.8" font-weight="normal" fill="#000" stroke="#000" stroke-width="0.2" textLength="71" lengthAdjust="spacingAndGlyphs">Days After LM Infection</text>
<text x="181.3" y="165" font-size="11.6" text-anchor="start" font-weight="bold" fill="#000" stroke="#000" stroke-width="0.2" textLength="8.98" lengthAdjust="spacingAndGlyphs">E</text>
<line x1="212" y1="170.0" x2="212" y2="248.4" stroke="#333" stroke-width="0.9"/>
<line x1="212" y1="248.4" x2="349" y2="248.4" stroke="#333" stroke-width="0.9"/>
<line x1="349" y1="248.4" x2="349" y2="250.4" stroke="#444" stroke-width="0.7"/>
<line x1="210.5" y1="248.4" x2="212" y2="248.4" stroke="#333" stroke-width="0.7"/>
<text x="209.4" y="249.5" font-size="3.2" text-anchor="end" font-weight="normal" fill="#333" stroke="#333" stroke-width="0.2" >0</text>
<line x1="210.5" y1="235.4" x2="212" y2="235.4" stroke="#333" stroke-width="0.7"/>
<text x="209.4" y="236.5" font-size="3.2" text-anchor="end" font-weight="normal" fill="#333" stroke="#333" stroke-width="0.2" >200</text>
<line x1="210.5" y1="222.4" x2="212" y2="222.4" stroke="#333" stroke-width="0.7"/>
<text x="209.4" y="223.5" font-size="3.2" text-anchor="end" font-weight="normal" fill="#333" stroke="#333" stroke-width="0.2" >400</text>
<line x1="210.5" y1="209.4" x2="212" y2="209.4" stroke="#333" stroke-width="0.7"/>
<text x="209.4" y="210.5" font-size="3.2" text-anchor="end" font-weight="normal" fill="#333" stroke="#333" stroke-width="0.2" >600</text>
<line x1="210.5" y1="196.4" x2="212" y2="196.4" stroke="#333" stroke-width="0.7"/>
<text x="209.4" y="197.5" font-size="3.2" text-anchor="end" font-weight="normal" fill="#333" stroke="#333" stroke-width="0.2" >800</text>
<line x1="210.5" y1="183.4" x2="212" y2="183.4" stroke="#333" stroke-width="0.7"/>
<text x="209.4" y="184.5" font-size="3.2" text-anchor="end" font-weight="normal" fill="#333" stroke="#333" stroke-width="0.2" >1000</text>
<line x1="210.5" y1="170.4" x2="212" y2="170.4" stroke="#333" stroke-width="0.7"/>
<text x="209.4" y="171.5" font-size="3.2" text-anchor="end" font-weight="normal" fill="#333" stroke="#333" stroke-width="0.2" >1200</text>
<rect x="230.00" y="242.00" width="25.50" height="6.40" fill="#fff" stroke="#444" stroke-width="0.8"/>
<line x1="242.75" y1="241" x2="242.75" y2="243.4" stroke="#555" stroke-width="0.65"/>
<line x1="241.85" y1="241" x2="243.65" y2="241" stroke="#555" stroke-width="0.65"/>
<line x1="241.85" y1="243.4" x2="243.65" y2="243.4" stroke="#555" stroke-width="0.65"/>
<text transform="translate(247,253.9) rotate(-45)" font-size="6.75" text-anchor="end" fill="#111" stroke="#111" stroke-width="0.2">Cont. Ab</text>
<rect x="255.50" y="193.00" width="24.90" height="55.40" fill="#fff" stroke="#444" stroke-width="0.8"/>
<line x1="267.95" y1="187" x2="267.95" y2="199.4" stroke="#555" stroke-width="0.65"/>
<line x1="267.05" y1="187" x2="268.84999999999997" y2="187" stroke="#555" stroke-width="0.65"/>
<line x1="267.05" y1="199.4" x2="268.84999999999997" y2="199.4" stroke="#555" stroke-width="0.65"/>
<text transform="translate(269,253.9) rotate(-45)" font-size="6.75" text-anchor="end" fill="#111" stroke="#111" stroke-width="0.2">α-Gr-1</text>
<rect x="280.40" y="246.00" width="25.00" height="2.40" fill="#fff" stroke="#555" stroke-width="0.7"/>
<text transform="translate(299.2,253.9) rotate(-45)" font-size="6.75" text-anchor="end" fill="#111" stroke="#111" stroke-width="0.2">Cont. Ab</text>
<rect x="305.40" y="190.60" width="24.90" height="57.80" fill="#fff" stroke="#4a4a4a" stroke-width="1.3"/>
<line x1="317.85" y1="184.6" x2="317.85" y2="196.6" stroke="#555" stroke-width="0.65"/>
<line x1="316.95000000000005" y1="184.6" x2="318.75" y2="184.6" stroke="#555" stroke-width="0.65"/>
<line x1="316.95000000000005" y1="196.6" x2="318.75" y2="196.6" stroke="#555" stroke-width="0.65"/>
<text transform="translate(322.2,253.9) rotate(-45)" font-size="6.75" text-anchor="end" fill="#111" stroke="#111" stroke-width="0.2">α-Gr-1</text>
<text x="267.7" y="181.1" font-size="7.2" text-anchor="middle" font-weight="bold" fill="#000" stroke="#000" stroke-width="0.2" >*</text>
<text x="318.4" y="178.9" font-size="7.2" text-anchor="middle" font-weight="bold" fill="#000" stroke="#000" stroke-width="0.2" >*</text>
<text x="293" y="238.9" font-size="6.2" text-anchor="middle" font-weight="bold" fill="#000" stroke="#000" stroke-width="0.2" >*</text>
<text x="293" y="243.1" font-size="6.2" text-anchor="middle" font-weight="bold" fill="#000" stroke="#000" stroke-width="0.2" >*</text>
<line x1="224" y1="272.6" x2="273" y2="272.6" stroke="#666" stroke-width="1.0"/>
<line x1="280.2" y1="272.6" x2="328" y2="272.6" stroke="#666" stroke-width="1.0"/>
<text x="241.2" y="286.4" font-size="7.4" font-weight="normal" fill="#111" stroke="#111" stroke-width="0.2" textLength="16" lengthAdjust="spacingAndGlyphs">RKO</text>
<text x="293.5" y="286.4" font-size="7.4" font-weight="normal" fill="#111" stroke="#111" stroke-width="0.2" textLength="16" lengthAdjust="spacingAndGlyphs">DKO</text>
<text transform="translate(188.8,208.7) rotate(-90)" x="-32.7" font-size="7.6" text-anchor="start" fill="#000" stroke="#000" stroke-width="0.2" textLength="65.4" lengthAdjust="spacingAndGlyphs">CFU/g Liver (x 10<tspan dy="-2.2" font-size="4.2">4</tspan><tspan dy="2.2">)</tspan></text>
<text x="354.1" y="163.4" font-size="11.4" text-anchor="start" font-weight="bold" fill="#000" stroke="#000" stroke-width="0.2" textLength="8.08" lengthAdjust="spacingAndGlyphs">F</text>
<line x1="382.8" y1="166.79999999999998" x2="382.8" y2="247.9" stroke="#333" stroke-width="0.9"/>
<line x1="382.8" y1="247.9" x2="519.4" y2="247.9" stroke="#333" stroke-width="0.9"/>
<line x1="519.4" y1="247.9" x2="519.4" y2="249.9" stroke="#444" stroke-width="0.7"/>
<line x1="381.3" y1="247.9" x2="382.8" y2="247.9" stroke="#333" stroke-width="0.7"/>
<text x="380.2" y="249.0" font-size="2.6" text-anchor="end" font-weight="normal" fill="#333" stroke="#333" stroke-width="0.2" >0</text>
<line x1="381.3" y1="237.8125" x2="382.8" y2="237.8125" stroke="#333" stroke-width="0.7"/>
<text x="380.2" y="238.9125" font-size="2.6" text-anchor="end" font-weight="normal" fill="#333" stroke="#333" stroke-width="0.2" >500</text>
<line x1="381.3" y1="227.725" x2="382.8" y2="227.725" stroke="#333" stroke-width="0.7"/>
<text x="380.2" y="228.825" font-size="2.6" text-anchor="end" font-weight="normal" fill="#333" stroke="#333" stroke-width="0.2" >1000</text>
<line x1="381.3" y1="217.6375" x2="382.8" y2="217.6375" stroke="#333" stroke-width="0.7"/>
<text x="380.2" y="218.73749999999998" font-size="2.6" text-anchor="end" font-weight="normal" fill="#333" stroke="#333" stroke-width="0.2" >1500</text>
<line x1="381.3" y1="207.55" x2="382.8" y2="207.55" stroke="#333" stroke-width="0.7"/>
<text x="380.2" y="208.65" font-size="2.6" text-anchor="end" font-weight="normal" fill="#333" stroke="#333" stroke-width="0.2" >2000</text>
<line x1="381.3" y1="197.46249999999998" x2="382.8" y2="197.46249999999998" stroke="#333" stroke-width="0.7"/>
<text x="380.2" y="198.56249999999997" font-size="2.6" text-anchor="end" font-weight="normal" fill="#333" stroke="#333" stroke-width="0.2" >2500</text>
<line x1="381.3" y1="187.375" x2="382.8" y2="187.375" stroke="#333" stroke-width="0.7"/>
<text x="380.2" y="188.475" font-size="2.6" text-anchor="end" font-weight="normal" fill="#333" stroke="#333" stroke-width="0.2" >3000</text>
<line x1="381.3" y1="177.2875" x2="382.8" y2="177.2875" stroke="#333" stroke-width="0.7"/>
<text x="380.2" y="178.3875" font-size="2.6" text-anchor="end" font-weight="normal" fill="#333" stroke="#333" stroke-width="0.2" >3500</text>
<line x1="381.3" y1="167.2" x2="382.8" y2="167.2" stroke="#333" stroke-width="0.7"/>
<text x="380.2" y="168.29999999999998" font-size="2.6" text-anchor="end" font-weight="normal" fill="#333" stroke="#333" stroke-width="0.2" >4000</text>
<rect x="401.20" y="238.40" width="25.20" height="9.50" fill="#fff" stroke="#333" stroke-width="0.9"/>
<line x1="413.79999999999995" y1="236" x2="413.79999999999995" y2="242.4" stroke="#555" stroke-width="0.65"/>
<line x1="412.9" y1="236" x2="414.69999999999993" y2="236" stroke="#555" stroke-width="0.65"/>
<line x1="412.9" y1="242.4" x2="414.69999999999993" y2="242.4" stroke="#555" stroke-width="0.65"/>
<text transform="translate(417.5,253.4) rotate(-45)" font-size="6.75" text-anchor="end" fill="#111" stroke="#111" stroke-width="0.2">Cont. Ab</text>
<rect x="426.40" y="183.30" width="25.20" height="64.60" fill="#fff" stroke="#333" stroke-width="0.9"/>
<line x1="439.0" y1="176" x2="439.0" y2="191.4" stroke="#555" stroke-width="0.65"/>
<line x1="438.1" y1="176" x2="439.9" y2="176" stroke="#555" stroke-width="0.65"/>
<line x1="438.1" y1="191.4" x2="439.9" y2="191.4" stroke="#555" stroke-width="0.65"/>
<text transform="translate(439.5,253.4) rotate(-45)" font-size="6.75" text-anchor="end" fill="#111" stroke="#111" stroke-width="0.2">α-Gr-1</text>
<rect x="451.60" y="247.00" width="24.20" height="0.90" fill="#fff" stroke="#555" stroke-width="0.7"/>
<text transform="translate(469.5,253.4) rotate(-45)" font-size="6.75" text-anchor="end" fill="#111" stroke="#111" stroke-width="0.2">Cont. Ab</text>
<rect x="475.80" y="200.40" width="25.80" height="47.50" fill="#fff" stroke="#333" stroke-width="0.9"/>
<line x1="488.70000000000005" y1="195" x2="488.70000000000005" y2="206" stroke="#555" stroke-width="0.65"/>
<line x1="487.80000000000007" y1="195" x2="489.6" y2="195" stroke="#555" stroke-width="0.65"/>
<line x1="487.80000000000007" y1="206" x2="489.6" y2="206" stroke="#555" stroke-width="0.65"/>
<text transform="translate(492.3,253.4) rotate(-45)" font-size="6.75" text-anchor="end" fill="#111" stroke="#111" stroke-width="0.2">α-Gr-1</text>
<text x="440.4" y="171.7" font-size="7.2" text-anchor="middle" font-weight="bold" fill="#000" stroke="#000" stroke-width="0.2" >*</text>
<text x="487.8" y="191.7" font-size="7.2" text-anchor="middle" font-weight="bold" fill="#000" stroke="#000" stroke-width="0.2" >*</text>
<text x="463" y="238.9" font-size="6.2" text-anchor="middle" font-weight="bold" fill="#000" stroke="#000" stroke-width="0.2" >*</text>
<text x="463" y="242.9" font-size="6.2" text-anchor="middle" font-weight="bold" fill="#000" stroke="#000" stroke-width="0.2" >*</text>
<line x1="395" y1="272.6" x2="442.6" y2="272.6" stroke="#666" stroke-width="1.0"/>
<line x1="449" y1="272.6" x2="497.6" y2="272.6" stroke="#666" stroke-width="1.0"/>
<text x="411.4" y="286.4" font-size="7.4" font-weight="normal" fill="#111" stroke="#111" stroke-width="0.2" textLength="16" lengthAdjust="spacingAndGlyphs">RKO</text>
<text x="463.8" y="286.4" font-size="7.4" font-weight="normal" fill="#111" stroke="#111" stroke-width="0.2" textLength="16" lengthAdjust="spacingAndGlyphs">DKO</text>
<text transform="translate(359.6,203.7) rotate(-90)" x="-34.7" font-size="7.3" text-anchor="start" fill="#000" stroke="#000" stroke-width="0.2" textLength="69.4" lengthAdjust="spacingAndGlyphs">CFU/g Spleen (x 10<tspan dy="-2.2" font-size="4.2">4</tspan><tspan dy="2.2">)</tspan></text>
</svg>
</body></html>
